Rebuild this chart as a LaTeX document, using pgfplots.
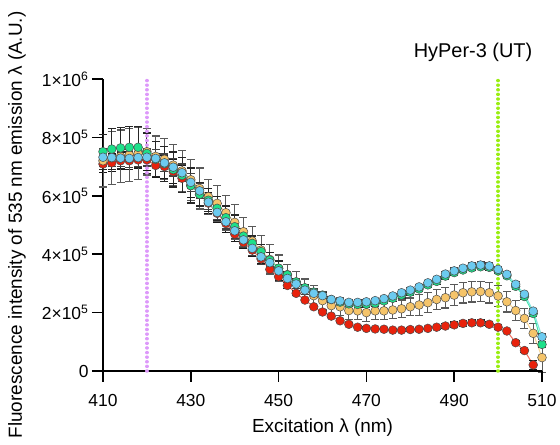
\documentclass[border=0pt]{standalone}
\usepackage{fontspec}
\setmainfont{Liberation Sans}
\usepackage{pgfplots}
\usepackage{pgfplotstable}
\pgfplotsset{compat=1.18}
\definecolor{cred}{HTML}{E8220C}
\definecolor{credl}{HTML}{F06A5A}
\definecolor{cora}{HTML}{F5C46A}
\definecolor{coral}{HTML}{F7D698}
\definecolor{cgrn}{HTML}{1DE08A}
\definecolor{cgrnl}{HTML}{3FE6A6}
\definecolor{cblu}{HTML}{6CCBF0}
\definecolor{cblul}{HTML}{86E6E0}
\definecolor{cviol}{HTML}{DD99FA}
\definecolor{clime}{HTML}{99EE11}

\pgfdeclareplotmark{capbar}{%
  \pgfpathrectangle{\pgfqpoint{-0.6bp}{-4bp}}{\pgfqpoint{1.2bp}{8bp}}%
  \pgfusepathqfill}

\pgfplotstableread{
x y e
410 7.09 0.30
412 7.13 0.30
414 7.20 0.30
416 7.20 0.30
418 7.23 0.30
420 7.23 0.35
422 7.04 0.40
424 7.00 0.40
426 6.83 0.40
428 6.60 0.45
430 6.35 0.40
432 6.05 0.40
434 5.75 0.35
436 5.40 0.30
438 5.05 0.30
440 4.69 0.25
442 4.40 0.20
444 4.14 0.20
446 3.84 0.15
448 3.48 0.15
450 3.23 0.12
452 2.93 0.10
454 2.66 0.08
456 2.43 0.06
458 2.20 0.05
460 2.02 0.05
462 1.88 0.05
464 1.72 0.05
466 1.60 0.05
468 1.50 0.05
470 1.46 0.05
472 1.44 0.05
474 1.43 0.05
476 1.40 0.05
478 1.40 0.05
480 1.42 0.06
482 1.43 0.06
484 1.46 0.06
486 1.50 0.07
488 1.54 0.08
490 1.58 0.10
492 1.63 0.10
494 1.65 0.10
496 1.65 0.10
498 1.60 0.08
500 1.50 0.08
502 1.37 0.06
504 0.97 0.06
506 0.70 0.06
508 0.21 0.15
}\redtab

\pgfplotstableread{
x y e
410 7.20 0.90
412 7.30 0.90
414 7.35 0.90
416 7.40 0.90
418 7.45 0.90
420 7.51 0.80
422 7.35 0.70
424 7.25 0.70
426 7.05 0.70
428 6.85 0.70
430 6.55 0.70
432 6.25 0.70
434 5.97 0.60
436 5.74 0.60
438 5.42 0.60
440 5.09 0.60
442 4.77 0.50
444 4.45 0.50
446 4.14 0.50
448 3.82 0.50
450 3.52 0.45
452 3.30 0.35
454 3.05 0.35
456 2.80 0.35
458 2.58 0.35
460 2.41 0.30
462 2.24 0.30
464 2.20 0.30
466 2.07 0.30
468 2.06 0.30
470 2.00 0.30
472 2.06 0.30
474 2.06 0.30
476 2.09 0.30
478 2.13 0.30
480 2.20 0.30
482 2.26 0.35
484 2.34 0.35
486 2.45 0.35
488 2.51 0.35
490 2.60 0.35
492 2.68 0.35
494 2.71 0.35
496 2.72 0.35
498 2.68 0.35
500 2.57 0.35
502 2.37 0.35
504 2.07 0.35
506 1.80 0.35
508 1.29 0.35
510 0.46 0.50
}\oratab

\pgfplotstableread{
x y e
410 7.51 0.60
412 7.60 0.70
414 7.64 0.70
416 7.66 0.70
418 7.66 0.70
420 7.45 0.70
422 7.25 0.60
424 7.10 0.60
426 6.90 0.60
428 6.70 0.60
430 6.35 0.60
432 6.05 0.40
434 5.85 0.40
436 5.57 0.40
438 5.25 0.40
440 4.94 0.40
442 4.62 0.25
444 4.37 0.25
446 4.09 0.25
448 3.80 0.25
450 3.52 0.25
452 3.29 0.10
454 3.05 0.10
456 2.85 0.10
458 2.70 0.10
460 2.60 0.10
462 2.45 0.10
464 2.36 0.10
466 2.30 0.10
468 2.28 0.10
470 2.29 0.10
472 2.32 0.10
474 2.40 0.10
476 2.49 0.10
478 2.60 0.10
480 2.70 0.10
482 2.81 0.10
484 2.95 0.10
486 3.07 0.10
488 3.25 0.10
490 3.37 0.10
492 3.46 0.10
494 3.53 0.10
496 3.57 0.10
498 3.55 0.10
500 3.43 0.10
502 3.26 0.10
504 2.90 0.10
506 2.55 0.10
508 1.97 0.10
510 0.91 0.10
}\grntab

\pgfplotstableread{
x y e
410 7.32 0.30
412 7.31 0.30
414 7.29 0.30
416 7.28 0.30
418 7.31 0.30
420 7.32 0.30
422 7.28 0.30
424 7.13 0.30
426 6.98 0.30
428 6.79 0.30
430 6.46 0.30
432 6.17 0.25
434 5.78 0.25
436 5.43 0.25
438 5.11 0.25
440 4.80 0.25
442 4.49 0.25
444 4.20 0.25
446 3.91 0.25
448 3.71 0.15
450 3.43 0.15
452 3.17 0.15
454 2.98 0.15
456 2.77 0.15
458 2.66 0.15
460 2.58 0.15
462 2.45 0.08
464 2.40 0.08
466 2.35 0.08
468 2.35 0.08
470 2.37 0.08
472 2.41 0.08
474 2.48 0.08
476 2.57 0.08
478 2.68 0.08
480 2.77 0.08
482 2.88 0.08
484 3.02 0.08
486 3.14 0.08
488 3.32 0.08
490 3.43 0.10
492 3.52 0.10
494 3.60 0.10
496 3.63 0.10
498 3.60 0.10
500 3.48 0.10
502 3.31 0.10
504 2.97 0.10
506 2.63 0.10
508 2.05 0.10
510 1.17 0.10
}\blutab

\begin{document}
\begin{tikzpicture}
\begin{axis}[
  at={(0,0)}, anchor=south west,
  scale only axis, width=439bp, height=292bp,
  xmin=410, xmax=510, ymin=0, ymax=10,
  clip=false,
  axis x line*=bottom, axis y line*=left,
  axis line style={line width=1.5bp, black},
  xtick={410,430,450,470,490,510},
  ytick={0,2,4,6,8,10},
  yticklabels={0, 2×10\textsuperscript{5}, 4×10\textsuperscript{5}, 6×10\textsuperscript{5}, 8×10\textsuperscript{5}, 1×10\textsuperscript{6}},
  /pgf/number format/assume math mode=true,
  xtick align=outside, ytick align=outside,
  major tick length=11bp,
  major tick style={line width=1.5bp, black},
  tick label style={font=\fontsize{17.5}{20}\selectfont},
  xticklabel style={yshift=-9bp},
  xlabel={Excitation λ (nm)},
  ylabel={Fluorescence intensity of 535 nm emission λ (A.U.)},
  label style={font=\fontsize{19}{22}\selectfont},
  xlabel style={at={(rel axis cs:0.5,0)}, anchor=center, yshift=-57bp},
  ylabel style={at={(rel axis cs:0,0.5)}, anchor=center, yshift=86bp},
]
\addplot[credl, line width=1bp, mark=*, mark size=4.4bp,
  mark options={fill=cred, draw=black!70, line width=0.5bp},
  error bars/.cd, y dir=both, y explicit, error mark=capbar,
  error bar style={black!90, line width=0.9bp},
  error mark options={fill=black!90}]
  table[x=x, y=y, y error=e]{\redtab};
\addplot[coral, line width=1bp, mark=*, mark size=4.4bp,
  mark options={fill=cora, draw=black!70, line width=0.5bp},
  error bars/.cd, y dir=both, y explicit, error mark=capbar,
  error bar style={black!65, line width=0.9bp},
  error mark options={fill=black!65}]
  table[x=x, y=y, y error=e]{\oratab};
\addplot[cgrnl, line width=1bp, mark=*, mark size=4.4bp,
  mark options={fill=cgrn, draw=black!70, line width=0.5bp},
  error bars/.cd, y dir=both, y explicit, error mark=capbar,
  error bar style={black!85, line width=0.9bp},
  error mark options={fill=black!85}]
  table[x=x, y=y, y error=e]{\grntab};
\addplot[cblul, line width=1.2bp, mark=*, mark size=4.4bp,
  mark options={fill=cblu, draw=black!70, line width=0.5bp},
  error bars/.cd, y dir=both, y explicit, error mark=capbar,
  error bar style={black!75, line width=0.9bp},
  error mark options={fill=black!75}]
  table[x=x, y=y, y error=e]{\blutab};

\addplot[cviol, line width=3.5bp, line cap=round, dash pattern=on 0.01bp off 4.6bp] coordinates {(420,0) (420,10)};
\addplot[clime, line width=3.5bp, line cap=round, dash pattern=on 0.01bp off 4.6bp] coordinates {(500,0) (500,10)};

\node[font=\fontsize{20}{24}\selectfont, anchor=center] at (rel axis cs:0.843,1) [yshift=27bp] {HyPer-3 (UT)};
\end{axis}
\foreach \t in {0,87.8,175.6,263.4,351.2,439}{
  \fill[black] (\t bp-0.75bp,0bp) rectangle (\t bp+0.75bp,-11bp);}
\foreach \t in {0,58.4,116.8,175.2,233.6,292}{
  \fill[black] (0bp,\t bp-0.75bp) rectangle (-11bp,\t bp+0.75bp);}
\pgfresetboundingbox
\path[use as bounding box] (-103bp,-74bp) rectangle (457bp,371bp);
\end{tikzpicture}
\end{document}
